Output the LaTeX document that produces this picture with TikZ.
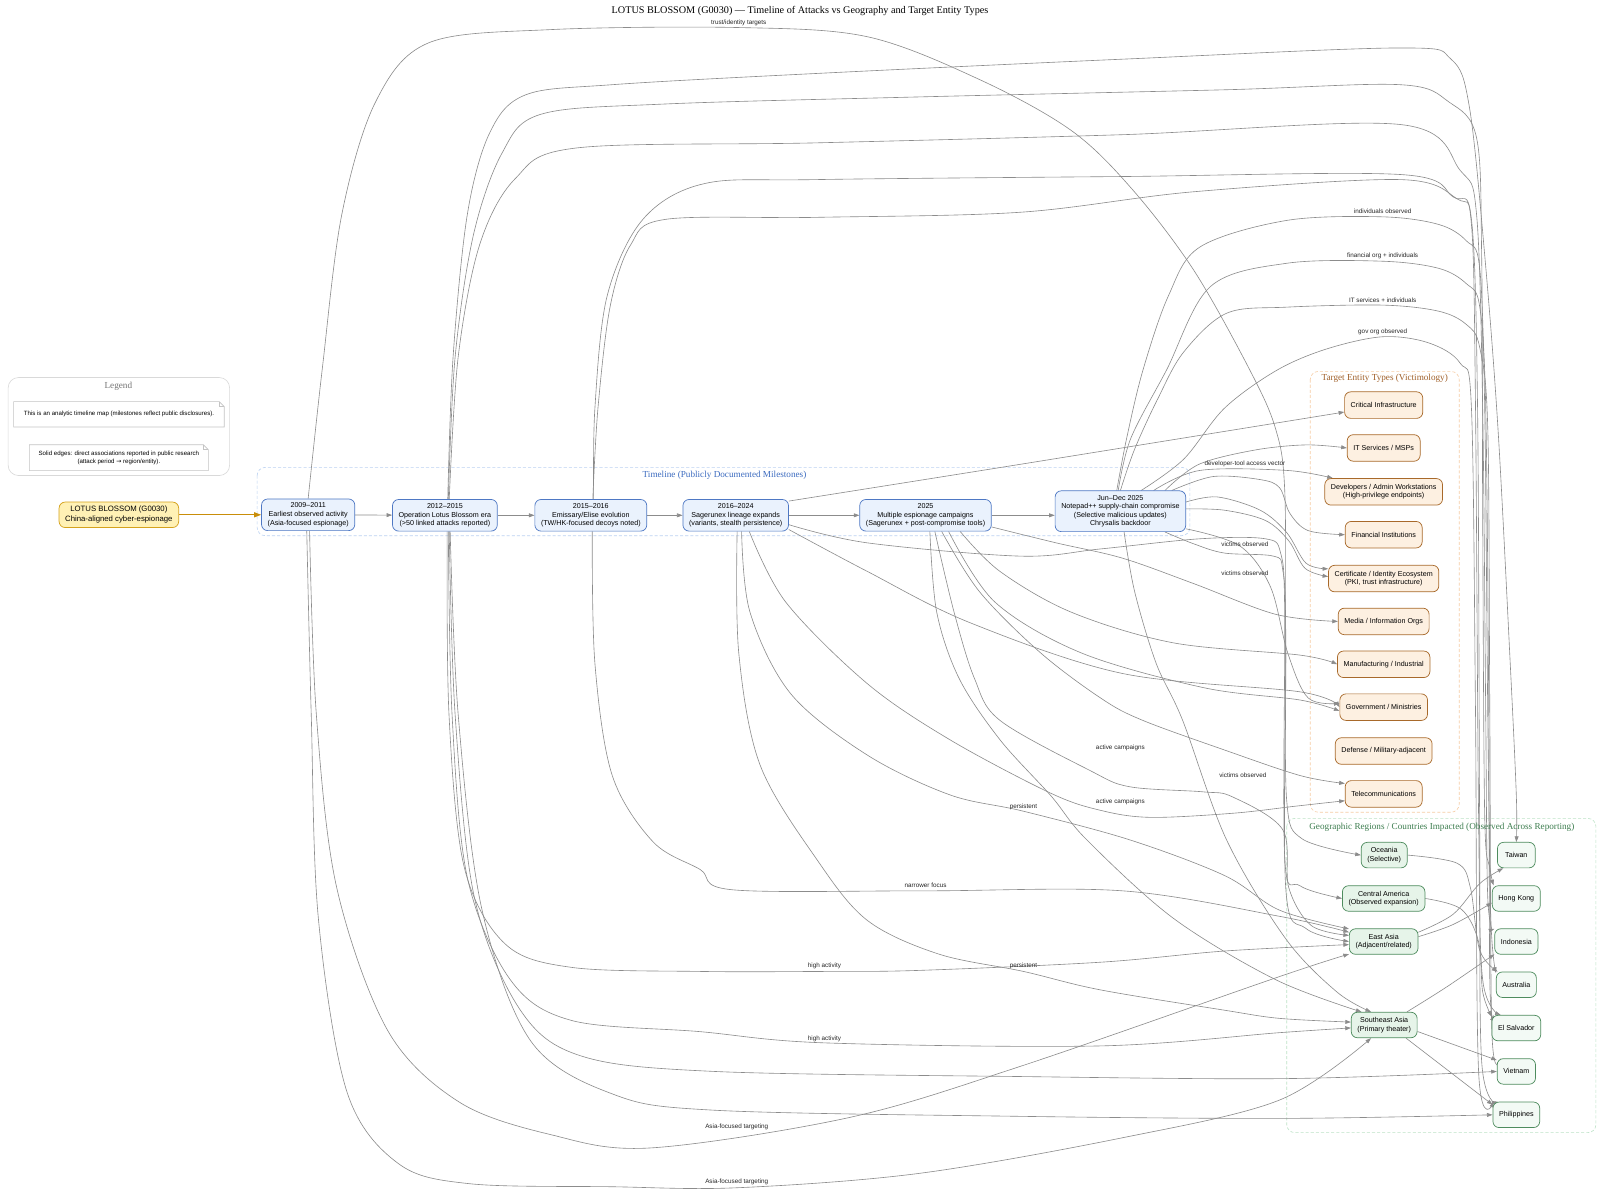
\documentclass[tikz,border=0pt]{standalone}
\usepackage{fontspec}
\setmainfont{Liberation Sans}
\newfontfamily\serifx{Liberation Serif}
\newfontfamily\djv{DejaVu Sans}
\usetikzlibrary{arrows.meta}
\definecolor{edgec}{HTML}{8C8C8C}
\definecolor{tlfill}{HTML}{EAF2FD}
\definecolor{tldraw}{HTML}{4E78C4}
\definecolor{tlclus}{HTML}{BCD2F2}
\definecolor{tllab}{HTML}{3D6CC0}
\definecolor{tgfill}{HTML}{FDF0E1}
\definecolor{tgdraw}{HTML}{A8692A}
\definecolor{tgclus}{HTML}{F7CDA5}
\definecolor{tglab}{HTML}{A0602A}
\definecolor{gefill}{HTML}{E6F4E9}
\definecolor{cofill}{HTML}{F3FAF5}
\definecolor{gedraw}{HTML}{4E8C5E}
\definecolor{geclus}{HTML}{BDE3C7}
\definecolor{gelab}{HTML}{3E7E50}
\definecolor{lofill}{HTML}{FFF1B5}
\definecolor{lodraw}{HTML}{D5A21C}
\definecolor{loarrow}{HTML}{C98E0A}
\definecolor{legc}{HTML}{D9D9D9}
\definecolor{notec}{HTML}{C4C4C4}
\pgfdeclarelayer{bg}
\pgfsetlayers{bg,main}
\tikzset{
 base/.style={rounded corners=6pt, align=center, font=\fontsize{7}{8.4}\selectfont, inner xsep=6pt, inner ysep=3pt, line width=0.7pt},
 tl/.style={base, fill=tlfill, draw=tldraw, minimum height=31pt},
 tg/.style={base, fill=tgfill, draw=tgdraw, minimum height=26pt},
 rg/.style={base, fill=gefill, draw=gedraw, minimum height=25pt},
 ct/.style={base, fill=cofill, draw=gedraw, minimum height=25pt, minimum width=37pt},
 conn/.style={draw=edgec, line width=0.6pt, -{Triangle[length=5.5pt,width=3.8pt]}},
 elab/.style={font=\fontsize{6.2}{7.4}\selectfont, inner sep=0.5pt, text=black!85},
 clus/.style={rounded corners=8pt, dash pattern=on 3pt off 2pt, line width=0.6pt},
 clab/.style={font={\serifx\fontsize{9}{11}\selectfont}},
 notebox/.style={font=\fontsize{6}{7.4}\selectfont, align=center, inner sep=0pt}
}
\newcommand\linkpath[1]{\draw[conn] plot[smooth,tension=0.55] coordinates {#1};}
\begin{document}
\begin{tikzpicture}[x=1pt,y=-1pt]
\useasboundingbox (0,0) rectangle (1568,1166);
% ---------- nodes ----------
\node[font={\serifx\fontsize{10}{12}\selectfont}] (title) at (784,11) {LOTUS BLOSSOM (G0030) — Timeline of Attacks vs Geography and Target Entity Types};
\node[clab, text=black!55] (legt) at (116,379) {Legend};
\node[clab, text=tllab] (tlt) at (710,466) {Timeline (Publicly Documented Milestones)};
\node[clab, text=tglab] (tgt) at (1357,370.5) {Target Entity Types (Victimology)};
\node[clab, text=gelab] (get) at (1413,811) {Geographic Regions / Countries Impacted (Observed Across Reporting)};

\node[notebox, minimum width=206pt, minimum height=24.5pt] (n1) at (116.6,406) {This is an analytic timeline map (milestones reflect public disclosures).};
\node[notebox, minimum width=175pt, minimum height=25pt] (n2) at (116.5,448.5) {Solid edges: direct associations reported in public research\\(attack period {\djv →} region/entity).};
\draw[notec, line width=0.6pt] (n1.north west) -- ([xshift=-5pt]n1.north east) -- ([yshift=-5pt]n1.north east) -- (n1.south east) -- (n1.south west) -- cycle;
\draw[notec, line width=0.6pt] ([xshift=-5pt]n1.north east) -- ([xshift=-5pt,yshift=-5pt]n1.north east) -- ([yshift=-5pt]n1.north east);
\draw[notec, line width=0.6pt] (n2.north west) -- ([xshift=-5pt]n2.north east) -- ([yshift=-5pt]n2.north east) -- (n2.south east) -- (n2.south west) -- cycle;
\draw[notec, line width=0.6pt] ([xshift=-5pt]n2.north east) -- ([xshift=-5pt,yshift=-5pt]n2.north east) -- ([yshift=-5pt]n2.north east);

\node[base, fill=lofill, draw=lodraw, font=\fontsize{7.6}{10}\selectfont, minimum height=25pt] (lotus) at (116.5,504.5) {LOTUS BLOSSOM (G0030)\\China-aligned cyber-espionage};

\node[tl] (t1) at (302,504.5) {2009–2011\\Earliest observed activity\\(Asia-focused espionage)};
\node[tl] (t2) at (436,505) {2012–2015\\Operation Lotus Blossom era\\(>50 linked attacks reported)};
\node[tl] (t3) at (579,505) {2015–2016\\Emissary/Elise evolution\\(TW/HK-focused decoys noted)};
\node[tl] (t4) at (721,505) {2016–2024\\Sagerunex lineage expands\\(variants, stealth persistence)};
\node[tl] (t5) at (907,505) {2025\\Multiple espionage campaigns\\(Sagerunex + post-compromise tools)};
\node[tl, minimum height=40pt] (t6) at (1098,501) {Jun–Dec 2025\\Notepad++ supply-chain compromise\\(Selective malicious updates)\\Chrysalis backdoor};

\node[tg] (ci) at (1356,397) {Critical Infrastructure};
\node[tg] (its) at (1356,439) {IT Services / MSPs};
\node[tg] (dev) at (1356,482) {Developers / Admin Workstations\\(High-privilege endpoints)};
\node[tg] (fin) at (1356,524) {Financial Institutions};
\node[tg] (cert) at (1356,567) {Certificate / Identity Ecosystem\\(PKI, trust infrastructure)};
\node[tg] (media) at (1356,609) {Media / Information Orgs};
\node[tg] (manu) at (1356,651) {Manufacturing / Industrial};
\node[tg] (gov) at (1356,693) {Government / Ministries};
\node[tg] (def) at (1356,736) {Defense / Military-adjacent};
\node[tg] (tel) at (1356,778) {Telecommunications};

\node[rg] (oce) at (1356.5,838) {Oceania\\(Selective)};
\node[rg] (cam) at (1356,880.5) {Central America\\(Observed expansion)};
\node[rg] (eas) at (1356,922.7) {East Asia\\(Adjacent/related)};
\node[rg] (sea) at (1356.5,1004.5) {Southeast Asia\\(Primary theater)};

\node[ct] (tw) at (1486,838) {Taiwan};
\node[ct] (hk) at (1486,880.5) {Hong Kong};
\node[ct] (idn) at (1486,922.7) {Indonesia};
\node[ct] (aus) at (1486,965) {Australia};
\node[ct] (sv) at (1486,1007.5) {El Salvador};
\node[ct] (vn) at (1486,1050) {Vietnam};
\node[ct] (ph) at (1486,1092.5) {Philippines};

% edge labels
\node[elab] (lb1) at (724,22) {trust/identity targets};
\node[elab] (lb2) at (1355,207) {individuals observed};
\node[elab] (lb3) at (1355,251) {financial org + individuals};
\node[elab] (lb4) at (1355,294) {IT services + individuals};
\node[elab] (lb5) at (1355,325) {gov org observed};
\node[elab] (lb6) at (1220,455) {developer-tool access vector};
\node[elab] (lb7) at (1220,533) {victims observed};
\node[elab] (lb8) at (1220,562) {victims observed};
\node[elab] (lb9) at (1218,760) {victims observed};
\node[elab] (lb10) at (1098,733) {active campaigns};
\node[elab] (lb11) at (1098,786) {active campaigns};
\node[elab] (lb12) at (1003,791) {persistent};
\node[elab] (lb13) at (1003,947) {persistent};
\node[elab] (lb14) at (907,868) {narrower focus};
\node[elab] (lb15) at (808,947) {high activity};
\node[elab] (lb16) at (808,1018) {high activity};
\node[elab] (lb17) at (722,1104) {Asia-focused targeting};
\node[elab] (lb18) at (722,1158) {Asia-focused targeting};

% ---------- background: clusters and edges ----------
\begin{pgfonlayer}{bg}
\fill[white] (0,0) rectangle (1568,1166);
\draw[legc, rounded corners=10pt, line width=0.6pt] (8,370) rectangle (225,466);
\draw[tlclus, clus] (252,458) rectangle (1166,525);
\draw[tgclus, clus] (1284,364) rectangle (1430,796);
\draw[geclus, clus] (1261,802) rectangle (1564,1110);

% timeline chain
\draw[draw=loarrow, line width=1.1pt, -{Triangle[length=7pt,width=5pt]}] (lotus) -- (t1);
\draw[conn] (t1) -- (t2);
\draw[conn] (t2) -- (t3);
\draw[conn] (t3) -- (t4);
\draw[conn] (t4) -- (t5);
\draw[conn] (t5.east) -- (t5.east -| t6.west);

% top arcs
\linkpath{(t1.north) (316,360) (335,210) (368,100) (420,42) (540,29) (724,27) (850,36) (960,78) (1050,128) (1110,186) (1170,265) (1225,363) (1250,420) (1259,480) (1260,640) (1261,785) (1276,822) (oce.west)}
\linkpath{(t2.80) (444,350) (458,210) (480,130) (515,93) (600,83) (800,72) (1100,58) (1372,47) (1422,58) (1440,105) (1455,250) (1468,420) (1480,650) (1486,780) (tw.north)}
\linkpath{(t2.78) (446,350) (464,230) (492,150) (530,112) (650,102) (900,95) (1200,88) (1372,83) (1420,100) (1447,135) (1452,250) (1453,500) (1455,800) (1460,850) (hk.150)}
\linkpath{(t2.75) (449,350) (470,240) (505,175) (565,145) (800,140) (1100,132) (1372,122) (1431,167) (1447,210) (1453,400) (1456,700) (1458,880) (idn.150)}
\linkpath{(t3.80) (583,400) (595,290) (630,215) (690,180) (800,176) (1100,173) (1372,171) (1424,193) (1442,215) (1448,400) (1450,800) (1452,1040) (ph.145)}
\linkpath{(t3.83) (586,400) (598,300) (618,240) (652,215) (800,213) (1000,208) (1169,188) (1372,176) (1428,195) (1442,220) (1446,400) (1449,800) (1453,960) (sv.140)}

% T6 arcs
\linkpath{(t6.100) (1104,430) (1120,363) (1145,290) (1176,242) (1261,216) (1355,212.5) (1410,220) (1437,236) (1450,262) (1455,400) (1458,700) (1461,900) (aus.150)}
\linkpath{(t6.96) (1108,430) (1143,363) (1186,281) (1261,258) (1355,256) (1410,263) (1437,278) (1450,300) (1456,400) (1459,700) (1460,960) (sv.150)}
\linkpath{(t6.90) (1112,440) (1135,390) (1160,345) (1202,307) (1261,301) (1355,299) (1410,305) (1437,318) (1450,340) (1458,420) (1460,700) (1462,1010) (vn.140)}
\linkpath{(t6.45) (1160,450) (1200,400) (1251,363) (1300,342) (1355,330) (1400,336) (1431,356) (1442,400) (1446,700) (1449,1050) (ph.150)}

% T6 others
\linkpath{(t6.25) (1175,455) (1230,441) (1280,436) (its.west)}
\linkpath{(t6.32) (1176,461) (1261,461) (dev.165)}
\linkpath{(t6.22) (1189,467) (1235,470) (1254,478) (1264,503) (1282,520) (fin.west)}
\linkpath{(t6.8) (1193,487) (1235,500) (1261,522) (1280,552) (cert.170)}
\linkpath{(t6.2) (1200,500) (1240,510) (1263,530) (1279,557) (cert.178)}
\linkpath{(t6.-15) (1215,535) (1245,575) (1262,640) (1282,684) (gov.175)}
\linkpath{(t6.-25) (1170,533) (1200,542) (1248,545) (1257,558) (1260,620) (1260,870) (1280,910) (eas.west)}
\linkpath{(t6.-80) (1112,580) (1133,650) (1159,706) (1202,823) (1260,920) (1310,972) (sea.135)}

% T4
\linkpath{(t4.15) (1000,455) (ci.190)}
\linkpath{(t4.-10) (850,532) (1000,545) (1078,538) (1176,528) (1240,528) (1255,542) (1259,600) (1259,840) (1274,868) (cam.west)}
\linkpath{(t4.-15) (850,560) (950,610) (1100,660) (1274,678) (gov.180)}
\linkpath{(t4.-50) (770,590) (850,670) (931,725) (1029,777) (1078,794) (1127,801) (1208,797) (1270,790) (tel.190)}
\linkpath{(t4.-70) (735,600) (775,680) (850,740) (931,779) (1003,795) (1107,823) (1200,858) (1254,892) (eas.160)}
\linkpath{(t4.-85) (724,640) (745,750) (801,843) (850,902) (920,935) (1003,952) (1078,970) (1200,990) (1254,998) (sea.175)}

% T5
\linkpath{(t5.-10) (1035,532) (1100,547) (1170,572) (1250,602) (media.west)}
\linkpath{(t5.-25) (980,560) (1050,600) (1150,630) (1274,642) (manu.west)}
\linkpath{(t5.-35) (975,590) (1060,640) (1180,674) (1274,686) (gov.185)}
\linkpath{(t5.-45) (960,580) (1020,640) (1080,685) (1120,706) (1200,735) (1274,760) (tel.165)}
\linkpath{(t5.-60) (935,600) (955,665) (980,706) (1068,755) (1107,771) (1179,776) (1208,781) (1257,813) (1263,870) (1285,907) (eas.170)}
\linkpath{(t5.-75) (918,600) (940,665) (980,725) (1030,780) (1065,823) (1150,900) (1250,960) (sea.150)}

% T3
\linkpath{(t3.-85) (583,650) (600,760) (640,825) (686,852) (718,872) (907,873) (1100,873) (1254,898) (eas.165)}

% T2 bottom
\linkpath{(t2.-82) (440,700) (455,850) (495,925) (560,948) (686,952) (808,952) (900,951) (1078,943) (1200,932) (eas.185)}
\linkpath{(t2.-78) (443,700) (458,860) (500,960) (560,1000) (686,1011) (808,1022) (1078,1025) (1254,1012) (sea.185)}
\linkpath{(t2.-75) (446,700) (465,880) (510,990) (570,1035) (700,1050) (1000,1055) (1261,1057) (vn.west)}
\linkpath{(t2.-72) (449,700) (472,890) (520,1020) (600,1072) (700,1088) (1000,1094) (1261,1096) (ph.west)}

% T1 bottom
\linkpath{(t1.-85) (310,700) (330,870) (380,1010) (450,1080) (540,1112) (637,1125) (833,1095) (1000,1045) (1254,957) (eas.200)}
\linkpath{(t1.-95) (305,700) (312,900) (340,1070) (390,1140) (460,1160) (600,1163) (722,1164) (900,1150) (1100,1115) (1254,1078) (sea.-135)}

% regions to countries
\linkpath{(oce.east) (1428,846) (1441,870) (1450,931) (aus.145)}
\linkpath{(cam.east) (1432,891) (1449,923) (1453,972) (sv.155)}
\linkpath{(eas.15) (1424,896) (1450,866) (tw.-135)}
\linkpath{(eas.8) (1424,906) (hk.190)}
\linkpath{(sea.30) (1418,967) (idn.-150)}
\linkpath{(sea.-11) (vn.150)}
\linkpath{(sea.-31) (ph.157)}
\end{pgfonlayer}
\end{tikzpicture}
\end{document}
